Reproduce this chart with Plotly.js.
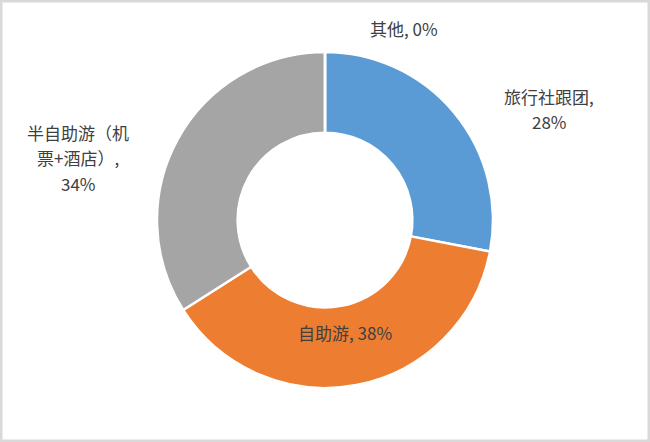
<!DOCTYPE html>
<html>
<head>
<meta charset="utf-8">
<script src="https://cdn.plot.ly/plotly-3.0.1.min.js"></script>
<style>html,body{margin:0;padding:0;background:#fff;}#chart{width:650px;height:442px;}</style>
</head>
<body>
<div id="chart"></div>
<script>
// Data
const categories = ['旅行社跟团', '自助游', '半自助游（机票+酒店）', '其他'];
const values = [28, 38, 34, 0];
const colors = ['#5B9BD5', '#ED7D31', '#A5A5A5', '#FFC000'];

// Label layout (where each data label's lines are split and placed, in pixels)
const labelSplits = [[6], [], [6, 12], []];   // character indexes where line breaks go
const labelPos = [
  {x: 549, y: 96},
  {x: 345, y: 332},
  {x: 78,  y: 132},
  {x: 404, y: 28}
];
const lineGap = 25.5;

const W = 650, H = 442;
const cx = 325, cy = 220, R = 168;

const annotations = [];
categories.forEach((c, i) => {
  const full = c + ', ' + values[i] + '%';
  const cuts = [0].concat(labelSplits[i]).concat([full.length]);
  for (let k = 0; k < cuts.length - 1; k++) {
    const line = full.slice(cuts[k], cuts[k + 1]).trim();
    annotations.push({
      xref: 'paper', yref: 'paper',
      x: labelPos[i].x / W,
      y: 1 - (labelPos[i].y + k * lineGap) / H,
      text: line, showarrow: false,
      xanchor: 'center', yanchor: 'middle',
      font: {family: '"Noto Sans CJK SC", "Noto Sans", sans-serif', size: 17, color: '#404040'}
    });
  }
});

const trace = {
  type: 'pie',
  labels: categories,
  values: values,
  hole: 0.52,
  sort: false,
  direction: 'clockwise',
  rotation: 0,
  textinfo: 'none',
  hoverinfo: 'label+percent',
  marker: {colors: colors, line: {color: '#ffffff', width: 2.5}},
  domain: {
    x: [(cx - R) / W, (cx + R) / W],
    y: [(H - cy - R) / H, (H - cy + R) / H]
  },
  showlegend: false
};

const layout = {
  width: W, height: H,
  margin: {l: 0, r: 0, t: 0, b: 0},
  paper_bgcolor: '#ffffff',
  showlegend: false,
  annotations: annotations,
  shapes: [{
    type: 'rect', xref: 'paper', yref: 'paper',
    x0: 0, x1: 1, y0: 0, y1: 1,
    line: {color: '#d9d9d9', width: 5}
  }]
};

Plotly.newPlot('chart', [trace], layout, {displayModeBar: false, staticPlot: true});
</script>
</body>
</html>
